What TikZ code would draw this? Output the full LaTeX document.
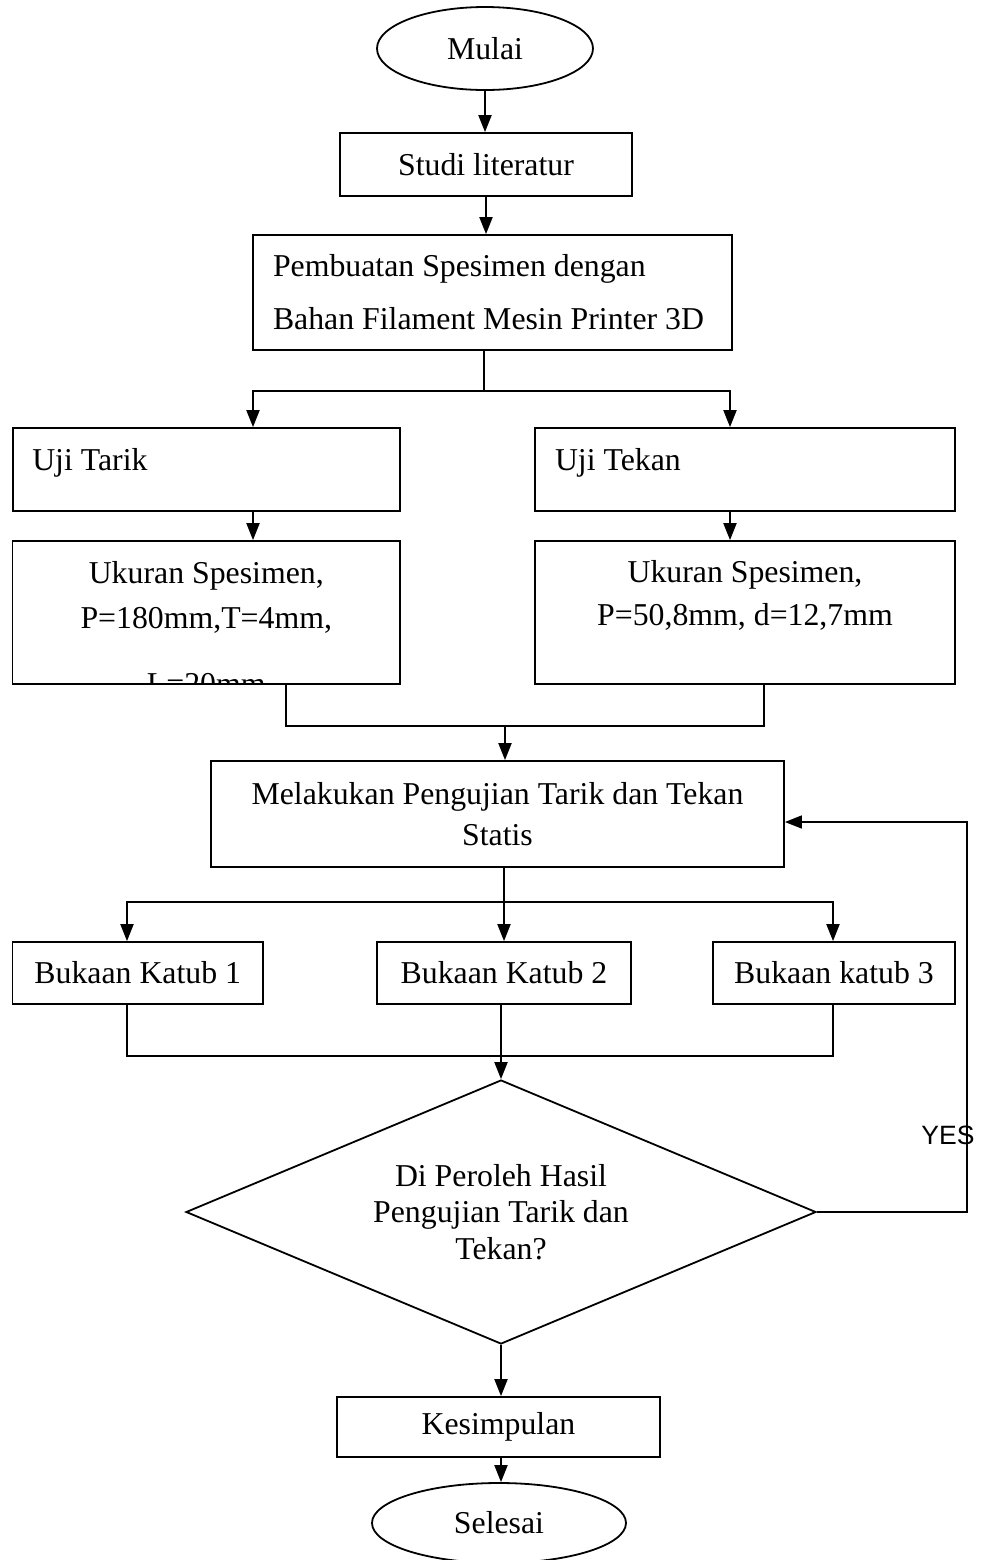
\documentclass[tikz,border=0pt]{standalone}
\usepackage{fontspec}
\setmainfont{Liberation Serif}
\setsansfont{Liberation Sans}
\usetikzlibrary{shapes.geometric, arrows.meta, positioning, calc}
\tikzstyle{startstop} = [ellipse, draw=black, line width=0.9pt, inner sep=0pt]
\tikzstyle{process} = [rectangle, draw=black, line width=0.9pt, inner sep=0pt, align=center]
\tikzstyle{decision} = [diamond, aspect=2.386, draw=black, line width=0.9pt, inner sep=0pt, align=center]
\tikzstyle{line} = [line width=0.7pt]
\tikzstyle{arrow} = [line width=1pt,-{Triangle[length=8.5pt,width=6.5pt]}]

\begin{document}
\begin{tikzpicture}[x=0.5pt, y=-0.5pt, font=\fontsize{15.9}{18.3}\selectfont]
    \useasboundingbox (0,0) rectangle (983,1560);
    \node (mulai) [startstop, minimum width=108pt, minimum height=41.5pt] at (485,48.5) {Mulai};
    \node (studi) [process, minimum width=146pt, minimum height=31.5pt] at (486,164.5) {Studi literatur};
    \node (buat) [process, minimum height=57.5pt, text width=219.5pt, inner xsep=10pt, align=flush left,
        font=\fontsize{15.9}{26.5}\selectfont] at (492.5,292.5) {Pembuatan Spesimen dengan\\Bahan~Filament~Mesin~Printer~3D};
    \node (tarik) [process, minimum height=41.5pt, text width=174pt, inner xsep=9.75pt, align=flush left,
        text height=11pt, text depth=10pt] at (206.25,469.5) {Uji Tarik};
    \node (tekan) [process, minimum height=41.5pt, text width=190pt, inner xsep=10pt, align=flush left,
        text height=11pt, text depth=10pt] at (745,469.5) {Uji Tekan};
    \node (ukl) [process, minimum width=193.75pt, minimum height=71.5pt, text height=27pt, text depth=11pt,
        font=\fontsize{15.9}{22.5}\selectfont] at (206.25,612.5) {Ukuran Spesimen,\\P=180mm,T=4mm,};
    \node (ukr) [process, minimum width=210pt, minimum height=71.5pt, text height=24pt, text depth=11pt,
        font=\fontsize{15.9}{21.5}\selectfont] at (745,612.5) {Ukuran Spesimen,\\P=50,8mm, d=12,7mm};
    \begin{scope}
        \clip (ukl.south west) rectangle (ukl.north east);
        \node (ukl3) [anchor=base] at (206.25,694) {L=20mm};
    \end{scope}
    \node (mel) [process, minimum width=286.5pt, minimum height=53pt,
        font=\fontsize{15.9}{20.5}\selectfont] at (497.5,814) {Melakukan Pengujian Tarik dan Tekan\\Statis};
    \node (bk1) [process, minimum width=125.25pt, minimum height=31pt] at (137.75,973) {Bukaan Katub 1};
    \node (bk2) [process, minimum width=127pt, minimum height=31pt] at (504,973) {Bukaan Katub 2};
    \node (bk3) [process, minimum width=121pt, minimum height=31pt] at (834,973) {Bukaan katub 3};
    \node (dia) [decision, minimum width=315pt, minimum height=132pt,
        font=\fontsize{15.9}{18.25}\selectfont] at (501,1212) {Di Peroleh Hasil\\Pengujian Tarik dan\\Tekan?};
    \node (kes) [process, minimum width=161.5pt, minimum height=30pt] at (498.5,1427) {Kesimpulan};
    \node (sel) [startstop, minimum width=127pt, minimum height=40pt] at (499,1523) {Selesai};
    \node (yes) [font=\sffamily\fontsize{13.25}{15}\selectfont] at (948,1135) {YES};

    % branch points
    \coordinate (j1) at (484,391);
    \coordinate (ta) at (253,391);
    \coordinate (te) at (730,391);
    \coordinate (jl) at (286,726);
    \coordinate (jr) at (764,726);
    \coordinate (j2) at (505,726);
    \coordinate (j3) at (504,902);
    \coordinate (k1) at (127,902);
    \coordinate (k3) at (833,902);
    \coordinate (m1) at (127,1056);
    \coordinate (m3) at (833,1056);
    \coordinate (y1) at (967,1212);
    \coordinate (y2) at (967,822);

    \draw [arrow] (mulai.south) -- (mulai.south |- studi.north);
    \draw [arrow] (studi.south) -- (studi.south |- buat.north);
    \draw [line] (j1 |- buat.south) -- (j1);
    \draw [arrow] (j1) -- (ta) -- (ta |- tarik.north);
    \draw [arrow] (j1) -- (te) -- (te |- tekan.north);
    \draw [arrow] (ta |- tarik.south) -- (ta |- ukl.north);
    \draw [arrow] (te |- tekan.south) -- (te |- ukr.north);
    \draw [line] (jl |- ukl.south) -- (jl) -- (jr) -- (jr |- ukr.south);
    \draw [arrow] (j2) -- (j2 |- mel.north);
    \draw [arrow] (j3 |- mel.south) -- (j3 |- bk2.north);
    \draw [arrow] (j3) -- (k1) -- (k1 |- bk1.north);
    \draw [arrow] (j3) -- (k3) -- (k3 |- bk3.north);
    \draw [line] (k1 |- bk1.south) -- (m1) -- (m3) -- (k3 |- bk3.south);
    \draw [arrow] (dia.north |- bk2.south) -- (dia.north);
    \draw [arrow, line width=0.8pt] (dia.east) -- (y1) -- (y2) -- (y2 -| mel.east);
    \draw [arrow] (dia.south) -- (dia.south |- kes.north);
    \draw [arrow] (dia.south |- kes.south) -- (dia.south |- sel.north);
\end{tikzpicture}
\end{document}
